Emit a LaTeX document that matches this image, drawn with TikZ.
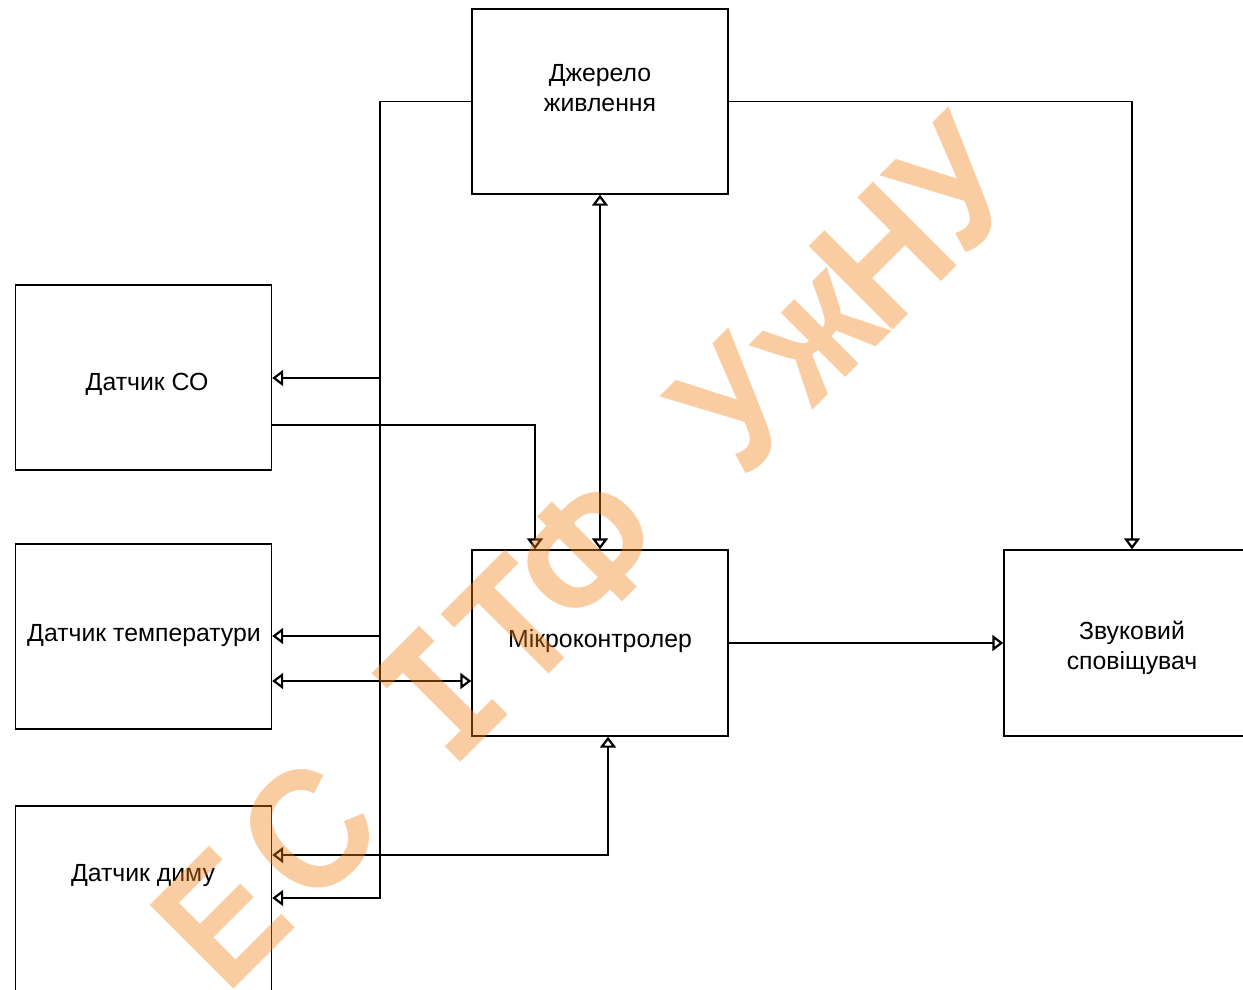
\documentclass[tikz,border=0pt]{standalone}
\usepackage{fontspec}
\setmainfont{Liberation Sans}
\newfontfamily\wmmono{DejaVu Sans Mono}
\usetikzlibrary{arrows.meta}
\definecolor{wm}{RGB}{240,130,20}
\newcommand\wmat[3]{\node[wmk] (#1) at ({(#2+865)*0.70711},{(865-#2)*0.70711}) {\scalebox{0.9}[1]{#3}};}
\begin{document}
\begin{tikzpicture}[x=1pt,y=-1pt,
  box/.style={draw,line width=1.4pt,rectangle,inner sep=0pt},
  lbl/.style={font=\fontsize{24.8}{30}\selectfont,align=center,inner sep=0pt},
  ln/.style={line width=1.4pt},
  wmk/.style={text=wm,opacity=0.4,rotate=45,inner sep=0pt,anchor=base,font=\bfseries\fontsize{172}{172}\selectfont},
  >={Triangle[open,length=11pt,width=16pt,line width=2.2pt]}]
\useasboundingbox (0,0) rectangle (1243,990);
\clip (0,0) rectangle (1243,990);
% boxes
\node[box,minimum width=256pt,minimum height=185pt] (pow) at (600,101.5) {};
\node[box,minimum width=256pt,minimum height=185pt] (co) at (143.5,377.5) {};
\node[box,minimum width=256pt,minimum height=185pt] (temp) at (143.5,636.5) {};
\node[box,minimum width=256pt,minimum height=185pt] (smoke) at (143.5,898.5) {};
\node[box,minimum width=256pt,minimum height=186pt] (mcu) at (600,643) {};
\node[box,minimum width=256pt,minimum height=186pt] (alarm) at (1132,643) {};
% labels
\node[lbl] (powt) at (600,88) {Джерело\\живлення};
\node[lbl] (cot) at (147,384) {Датчик СО};
\node[lbl] (tempt) at (144,636) {Датчик температури};
\node[lbl] (smoket) at (143,876) {Датчик диму};
\node[lbl] (mcut) at (600,641) {Мікроконтролер};
\node[lbl] (alarmt) at (1132,648) {Звуковий\\сповіщувач};
% connectors
\draw[ln,->] (pow.west) -| (380,898) -- (smoke.east |- 0,898);
\draw[ln,->] (380,378) -- (co.east |- 0,378);
\draw[ln,->] (380,636) -- (temp.east |- 0,636);
\draw[ln,->] (pow.east) -| (alarm.north);
\draw[ln,<->] (pow.south) -- (mcu.north);
\draw[ln,->] (co.east |- 0,425) -| (535,0 |- mcu.north);
\draw[ln,<->] (temp.east |- 0,681) -- (mcu.west |- 0,681);
\draw[ln,<->] (608,0 |- mcu.south) |- (smoke.east |- 0,855);
\draw[ln,->] (mcu.east |- 0,643) -- (alarm.west |- 0,643);
% watermark
\wmat{wm1}{-493}{Е}
\wmat{wm2}{-370}{С}
\wmat{wm3}{-180}{\wmmono І}
\wmat{wm4}{-77}{Т}
\wmat{wm5}{25}{Ф}
\wmat{wm6}{234}{У}
\wmat{wm7}{341}{ж}
\wmat{wm8}{443}{Н}
\wmat{wm9}{546}{У}
\end{tikzpicture}
\end{document}
